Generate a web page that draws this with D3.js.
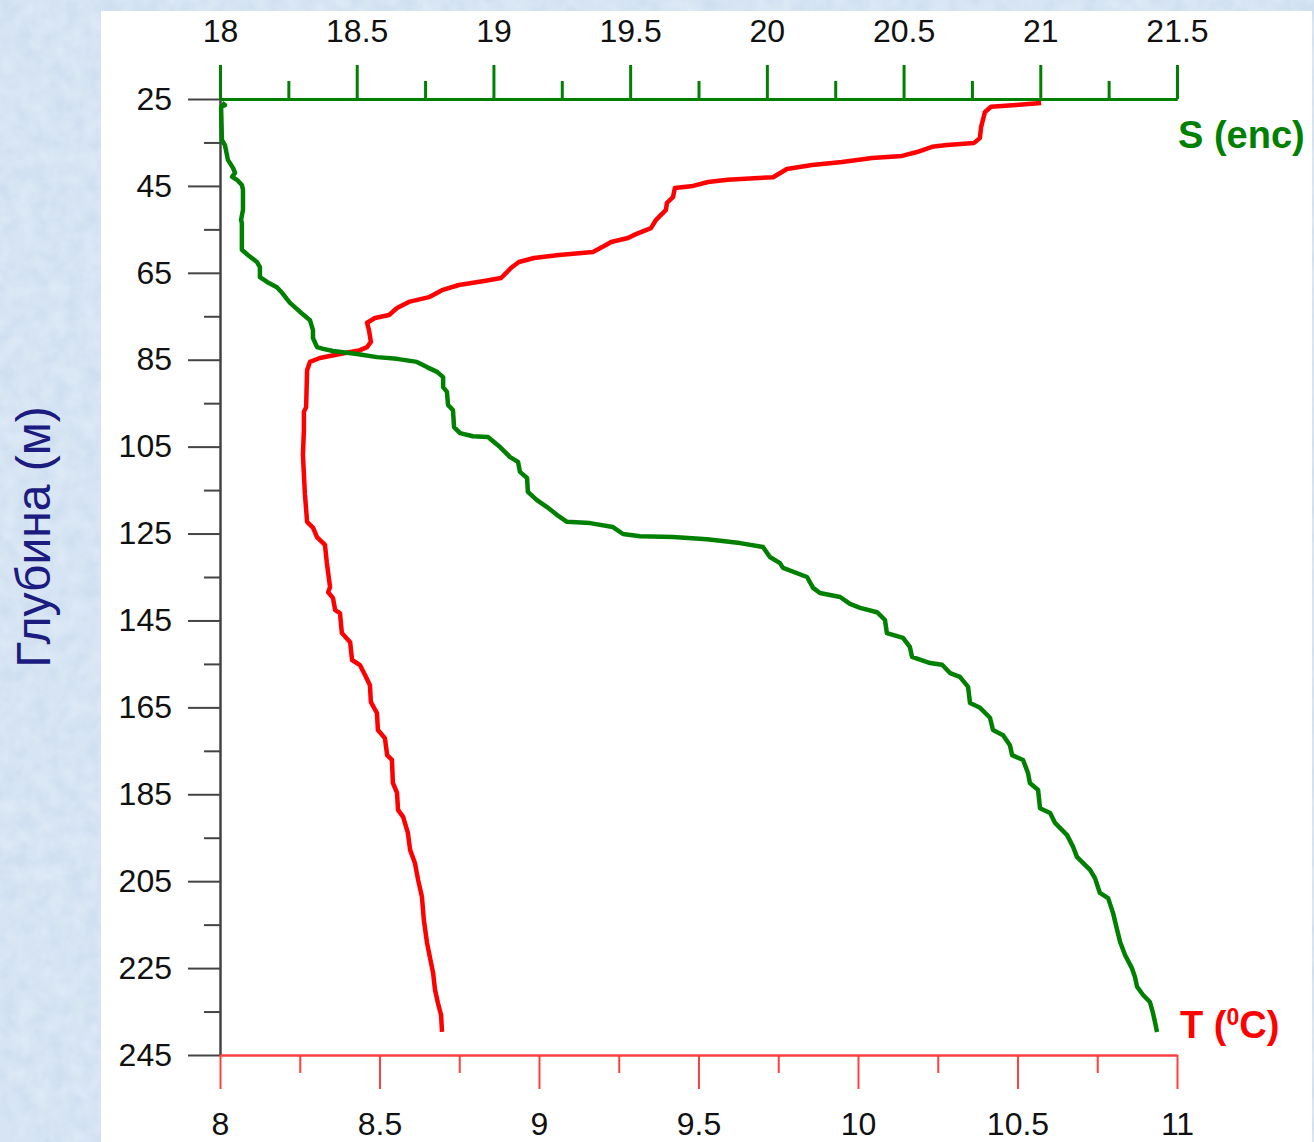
<!DOCTYPE html>
<html>
<head>
<meta charset="utf-8">
<script src="https://cdn.jsdelivr.net/npm/d3@7"></script>
<style>
  html, body { margin: 0; padding: 0; background: #d3e2f1; }
  svg { display: block; }
  text { font-family: Arial, "Liberation Sans", sans-serif; }
</style>
</head>
<body>
<div id="chart"></div>
<script>
// солёность S (верхняя ось) по глубине
var depthS = [25.9, 26.4, 26.8, 34.4, 35.6, 39.0, 40.9, 42.0, 42.9, 43.6, 44.8, 45.9, 50.5, 52.8, 53.5, 59.7,
  60.9, 62.5, 63.7, 66.0, 67.1, 68.3, 69.6, 71.9, 74.0, 75.9, 78.2, 80.0, 82.1, 82.5, 83.0, 83.7, 84.4, 84.8,
  85.5, 86.7, 87.8, 89.0, 91.3, 92.4, 95.4, 96.6, 100.5, 101.9, 102.6, 102.8, 105.1, 107.4, 108.5, 110.8,
  112.2, 115.4, 117.3, 118.9, 120.7, 122.3, 122.6, 123.5, 125.1, 125.6, 125.8, 126.3, 127.2, 128.1, 130.4,
  131.8, 132.9, 135.0, 137.5, 138.7, 139.6, 141.2, 142.1, 143.1, 144.9, 147.9, 149.0, 151.1, 153.4, 154.8,
  155.2, 157.1, 158.0, 160.3, 164.0, 165.1, 167.4, 170.2, 171.4, 173.7, 176.0, 177.1, 180.1, 182.4, 184.0,
  188.2, 189.3, 191.6, 194.4, 197.1, 199.4, 202.4, 204.3, 207.7, 208.9, 212.3, 216.2, 219.0, 222.0, 225.0,
  227.0, 229.3, 231.2, 232.8, 235.3, 237.6, 239.7]
var salinity = [18.007, 18.018, 18.004, 18.007, 18.018, 18.029, 18.048, 18.055, 18.044, 18.062, 18.080, 18.084,
  18.084, 18.077, 18.080, 18.080, 18.102, 18.135, 18.146, 18.146, 18.172, 18.208, 18.227, 18.256, 18.293,
  18.329, 18.340, 18.340, 18.355, 18.377, 18.413, 18.501, 18.574, 18.647, 18.720, 18.757, 18.794, 18.816,
  18.816, 18.830, 18.834, 18.852, 18.856, 18.878, 18.925, 18.980, 19.024, 19.061, 19.090, 19.097, 19.123,
  19.126, 19.159, 19.196, 19.232, 19.269, 19.353, 19.437, 19.474, 19.536, 19.657, 19.781, 19.902, 19.986,
  20.011, 20.048, 20.059, 20.147, 20.169, 20.194, 20.268, 20.304, 20.341, 20.403, 20.432, 20.439, 20.498,
  20.523, 20.531, 20.597, 20.641, 20.670, 20.706, 20.736, 20.743, 20.780, 20.816, 20.827, 20.864, 20.889,
  20.897, 20.937, 20.955, 20.962, 20.992, 20.999, 21.036, 21.054, 21.098, 21.120, 21.134, 21.182, 21.200,
  21.218, 21.248, 21.266, 21.281, 21.292, 21.310, 21.335, 21.346, 21.354, 21.376, 21.401, 21.412, 21.420, 21.427]

// температура T (нижняя ось) по глубине
var depthT = [25.9, 26.4, 26.8, 28.0, 31.4, 34.0, 35.1, 35.6, 36.0, 37.2, 38.1, 38.6, 39.5, 40.2, 41.1, 43.0,
  43.2, 43.6, 44.1, 45.0, 45.5, 47.6, 48.9, 50.5, 52.8, 54.7, 56.1, 57.0, 57.9, 58.6, 60.2, 60.9, 61.6, 62.5,
  63.9, 66.2, 66.9, 67.8, 69.0, 70.6, 71.7, 73.1, 74.7, 75.4, 76.5, 78.2, 80.9, 82.1, 82.8, 83.7, 84.6, 85.5,
  87.4, 95.9, 97.0, 101.2, 106.9, 115.7, 122.3, 123.7, 125.8, 127.6, 131.8, 137.3, 138.5, 139.8, 142.6, 143.3,
  147.9, 150.0, 154.1, 155.3, 157.6, 159.9, 163.8, 166.3, 170.2, 172.1, 176.0, 177.1, 182.4, 184.7, 188.6,
  190.2, 193.9, 197.8, 200.8, 204.7, 208.6, 213.9, 219.2, 222.5, 226.1, 230.0, 233.0, 235.8, 239.7]
var temperature = [10.574, 10.495, 10.417, 10.398, 10.386, 10.382, 10.364, 10.279, 10.232, 10.185, 10.138,
  10.044, 9.950, 9.856, 9.777, 9.734, 9.687, 9.592, 9.530, 9.483, 9.426, 9.420, 9.401, 9.398, 9.367, 9.351,
  9.304, 9.279, 9.226, 9.210, 9.169, 9.063, 8.984, 8.937, 8.912, 8.881, 8.828, 8.749, 8.696, 8.655, 8.592,
  8.555, 8.530, 8.486, 8.461, 8.467, 8.473, 8.461, 8.439, 8.376, 8.313, 8.282, 8.273, 8.270, 8.263, 8.263,
  8.260, 8.266, 8.273, 8.292, 8.304, 8.329, 8.335, 8.345, 8.339, 8.354, 8.361, 8.376, 8.382, 8.408, 8.414,
  8.439, 8.455, 8.470, 8.473, 8.492, 8.495, 8.517, 8.524, 8.539, 8.542, 8.555, 8.558, 8.574, 8.589, 8.596,
  8.611, 8.621, 8.633, 8.639, 8.649, 8.658, 8.668, 8.674, 8.683, 8.693, 8.696]

// подписи осей
var sTicks = [18, 18.5, 19, 19.5, 20, 20.5, 21, 21.5]
var sMinor = [18.25, 18.75, 19.25, 19.75, 20.25, 20.75, 21.25]
var tTicks = [8, 8.5, 9, 9.5, 10, 10.5, 11]
var tMinor = [8.25, 8.75, 9.25, 9.75, 10.25, 10.75]
var depthTicks = [25, 45, 65, 85, 105, 125, 145, 165, 185, 205, 225, 245]
var depthMinor = [35, 55, 75, 95, 115, 135, 155, 175, 195, 215, 235]

var W = 1314, H = 1142
var plotL = 220, plotR = 1177, plotT = 99, plotB = 1055

var svg = d3.select('#chart').append('svg')
  .attr('width', W)
  .attr('height', H)

// фон с текстурой
var defs = svg.append('defs')
var flt = defs.append('filter').attr('id', 'paper')
  .attr('x', 0).attr('y', 0).attr('width', '100%').attr('height', '100%')
flt.append('feTurbulence')
  .attr('type', 'fractalNoise')
  .attr('baseFrequency', 0.06)
  .attr('numOctaves', 3)
  .attr('seed', 4)
flt.append('feColorMatrix')
  .attr('type', 'matrix')
  .attr('values', '0 0 0 0 0.93  0 0 0 0 0.96  0 0 0 0 1  0 0 0 0.55 -0.1')

svg.append('rect').attr('width', W).attr('height', H).attr('fill', '#cfdff0')
svg.append('rect').attr('width', W).attr('height', H).attr('filter', 'url(#paper)')

// белая панель
svg.append('rect')
  .attr('x', 101).attr('y', 11)
  .attr('width', 1211).attr('height', H - 11)
  .attr('fill', '#ffffff')

var xS = d3.scaleLinear().domain([18, 21.5]).range([plotL, plotR])
var xT = d3.scaleLinear().domain([8, 11]).range([plotL, plotR])
var y = d3.scaleLinear().domain([25, 245]).range([plotT, plotB])

function styleAxis(g, color, width) {
  g.select('.domain').attr('stroke', color).attr('stroke-width', width)
  g.selectAll('.tick line').attr('stroke', color).attr('stroke-width', width)
  g.selectAll('.tick text')
    .attr('fill', '#111')
    .style('font-size', '32px')
    .style('font-family', 'Arial, "Liberation Sans", sans-serif')
}

// левая ось глубины
var gyMinor = svg.append('g').attr('transform', 'translate(' + plotL + ',0)')
  .call(d3.axisLeft(y).tickValues(depthMinor).tickSize(16).tickSizeOuter(0).tickFormat(''))
styleAxis(gyMinor, '#444', 2)
var gy = svg.append('g').attr('transform', 'translate(' + plotL + ',0)')
  .call(d3.axisLeft(y).tickValues(depthTicks).tickSize(32).tickSizeOuter(0).tickPadding(16).tickFormat(d3.format('d')))
styleAxis(gy, '#444', 2)

// нижняя ось T
var gtMinor = svg.append('g').attr('transform', 'translate(0,' + plotB + ')')
  .call(d3.axisBottom(xT).tickValues(tMinor).tickSize(18).tickSizeOuter(0).tickFormat(''))
styleAxis(gtMinor, '#ff4040', 2)
var gt = svg.append('g').attr('transform', 'translate(0,' + plotB + ')')
  .call(d3.axisBottom(xT).tickValues(tTicks).tickSize(34).tickSizeOuter(0).tickPadding(23).tickFormat(d3.format('')))
styleAxis(gt, '#ff4040', 2)

// верхняя ось S
var gsMinor = svg.append('g').attr('transform', 'translate(0,' + plotT + ')')
  .call(d3.axisTop(xS).tickValues(sMinor).tickSize(18).tickSizeOuter(0).tickFormat(''))
styleAxis(gsMinor, '#008000', 3)
var gs = svg.append('g').attr('transform', 'translate(0,' + plotT + ')')
  .call(d3.axisTop(xS).tickValues(sTicks).tickSize(34).tickSizeOuter(0).tickPadding(23).tickFormat(d3.format('')))
styleAxis(gs, '#008000', 3)

// кривые
var lineS = d3.line()
  .x(function(d){ return xS(d[1]) })
  .y(function(d){ return y(d[0]) })
var lineT = d3.line()
  .x(function(d){ return xT(d[1]) })
  .y(function(d){ return y(d[0]) })

svg.append('path')
  .datum(d3.zip(depthT, temperature))
  .attr('d', lineT)
  .attr('fill', 'none')
  .attr('stroke', '#ff0000')
  .attr('stroke-width', 4.5)
  .attr('stroke-linejoin', 'round')

svg.append('path')
  .datum(d3.zip(depthS, salinity))
  .attr('d', lineS)
  .attr('fill', 'none')
  .attr('stroke', '#008000')
  .attr('stroke-width', 4.5)
  .attr('stroke-linejoin', 'round')

// подписи
svg.append('text')
  .attr('transform', 'translate(50,537) rotate(-90)')
  .attr('text-anchor', 'middle')
  .attr('fill', '#1b1b80')
  .style('font-size', '48px')
  .text('Глубина (м)')

svg.append('text')
  .attr('x', 1178).attr('y', 148)
  .attr('fill', '#008000')
  .style('font-size', '38px')
  .style('font-weight', 'bold')
  .text('S (enc)')

var tl = svg.append('text')
  .attr('x', 1180).attr('y', 1038)
  .attr('fill', '#ff0000')
  .style('font-size', '38px')
  .style('font-weight', 'bold')
tl.append('tspan').text('T (')
tl.append('tspan').attr('dy', -13).style('font-size', '23px').text('0')
tl.append('tspan').attr('dy', 13).text('C)')
</script>
</body>
</html>
